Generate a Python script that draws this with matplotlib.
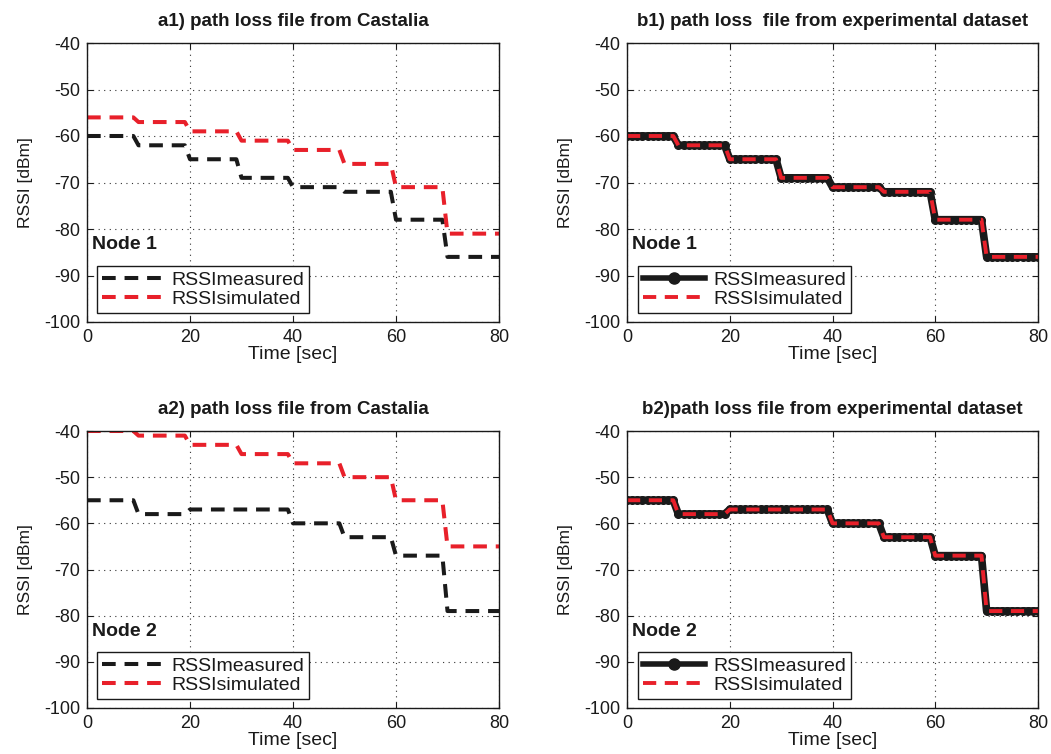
import matplotlib
matplotlib.use("Agg")
import matplotlib.pyplot as plt
from matplotlib.lines import Line2D
import numpy as np

plt.rcParams["font.family"] = ["Liberation Sans", "DejaVu Sans"]
plt.rcParams["axes.unicode_minus"] = False

# RSSI level held during each 10 s interval (0-10, 10-20, ..., 70-80)
node1_measured = [-60, -62, -65, -69, -71, -72, -78, -86]
node1_castalia = [-56, -57, -59, -61, -63, -66, -71, -81]
node1_experimental = [-60, -62, -65, -69, -71, -72, -78, -86]

node2_measured = [-55, -58, -57, -57, -60, -63, -67, -79]
node2_castalia = [-40, -41, -43, -45, -47, -50, -55, -65]
node2_experimental = [-55, -58, -57, -57, -60, -63, -67, -79]

titles = ["a1) path loss file from Castalia",
          "b1) path loss  file from experimental dataset",
          "a2) path loss file from Castalia",
          "b2)path loss file from experimental dataset"]

t = np.arange(0, 81)


def steps(levels):
    # one sample per second, each level held for 10 s
    return np.append(np.repeat(levels, 10), levels[-1])


W, H = 1051, 754
boxes = [(87, 43, 499, 322), (627, 43, 1038, 322),
         (87, 431, 499, 708), (627, 431, 1038, 708)]

fig = plt.figure(figsize=(W / 100, H / 100), dpi=100)
axes = []
for l, tp, r, b in boxes:
    axes.append(fig.add_axes([l / W, 1 - b / H, (r - l) / W, (b - tp) / H]))

ink = "#1a1a1a"
red = "#e8202a"
dash = (0, (3.4, 2.2))

panels = [
    (axes[0], node1_measured, node1_castalia, "castalia", "Node 1"),
    (axes[1], node1_measured, node1_experimental, "exp", "Node 1"),
    (axes[2], node2_measured, node2_castalia, "castalia", "Node 2"),
    (axes[3], node2_measured, node2_experimental, "exp", "Node 2"),
]

for i, (ax, meas, sim, kind, node) in enumerate(panels):
    if kind == "castalia":
        ax.plot(t, steps(meas), color=ink, lw=2.9, ls=dash)
        ax.plot(t, steps(sim), color=red, lw=2.9, ls=dash)
        handles = [Line2D([], [], color=ink, lw=2.9, ls=dash),
                   Line2D([], [], color=red, lw=2.9, ls=dash)]
        leg_x = 0.024
    else:
        ax.plot(t, steps(meas), color=ink, lw=5.5, marker="o", ms=5.5,
                solid_capstyle="round", solid_joinstyle="round")
        ax.plot(t, steps(sim), color=red, lw=2.8, ls=dash)
        handles = [Line2D([], [], color=ink, lw=4, marker="o", ms=8),
                   Line2D([], [], color=red, lw=2.8, ls=dash)]
        leg_x = 0.027

    ax.set_xlim(0, 80)
    ax.set_ylim(-100, -40)
    ax.set_xticks(np.arange(0, 81, 20))
    ax.set_yticks(np.arange(-100, -39, 10))
    ax.tick_params(direction="in", top=True, right=True, labelsize=13,
                   length=4, width=0.8, colors=ink, pad=5)
    ax.grid(True, ls=(0, (1, 4)), color="#333333", lw=0.8)
    for s in ax.spines.values():
        s.set_linewidth(1.0)
        s.set_color(ink)

    ax.set_title(titles[i], fontsize=13.5, fontweight="bold", pad=12,
                 color=ink)
    ax.set_ylabel("RSSI [dBm]", fontsize=12.5, labelpad=8, color=ink)
    ax.set_xlabel("Time [sec]", fontsize=14, labelpad=0, color=ink)

    ax.text(0.012, 0.276, node, transform=ax.transAxes, fontsize=14,
            fontweight="bold", va="center", ha="left", color=ink)

    leg = ax.legend(handles, ["RSSImeasured", "RSSIsimulated"],
                    loc="lower left", bbox_to_anchor=(leg_x, 0.032),
                    borderaxespad=0, fontsize=14, fancybox=False,
                    handlelength=3.2, handletextpad=0.4, borderpad=0.25,
                    labelspacing=0.1, framealpha=1)
    leg.get_frame().set_edgecolor(ink)
    leg.get_frame().set_linewidth(1.0)
    for txt in leg.get_texts():
        txt.set_color(ink)

fig.savefig("out.png", dpi=100)
